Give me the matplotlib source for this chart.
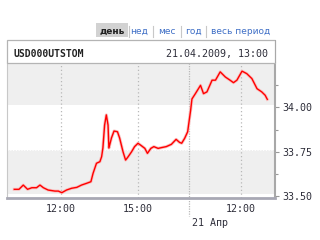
import matplotlib
matplotlib.use('Agg')
import matplotlib.pyplot as plt
from matplotlib.patches import Rectangle
import matplotlib.transforms as mtransforms

# USD000UTSTOM intraday, 20.04.2009 - 21.04.2009
day1_times = ['10:11', '10:22', '10:32', '10:42', '10:52', '11:03', '11:11', '11:19',
              '11:30', '11:46', '11:54', '12:02', '12:13', '12:25', '12:37', '12:48',
              '13:00', '13:10', '13:15', '13:23', '13:31', '13:35', '13:38', '13:42',
              '13:46', '13:50', '13:52', '13:58', '14:04', '14:12', '14:17', '14:25',
              '14:31', '14:37', '14:45', '14:52', '15:00', '15:08', '15:16', '15:22',
              '15:30', '15:37', '15:47', '15:54', '16:06', '16:18', '16:29', '16:37',
              '16:42', '16:49', '16:56']
day1_prices = [33.538, 33.538, 33.562, 33.538, 33.547, 33.547, 33.562, 33.547,
               33.534, 33.528, 33.528, 33.519, 33.534, 33.544, 33.549, 33.562,
               33.572, 33.581, 33.628, 33.685, 33.694, 33.722, 33.771, 33.901,
               33.958, 33.901, 33.771, 33.828, 33.867, 33.863, 33.828, 33.750,
               33.703, 33.722, 33.750, 33.779, 33.798, 33.784, 33.769, 33.741,
               33.769, 33.779, 33.769, 33.773, 33.779, 33.792, 33.820, 33.803,
               33.798, 33.826, 33.863]
day2_times = ['10:03', '10:06', '10:14', '10:26', '10:33', '10:41', '10:53', '11:01',
              '11:12', '11:24', '11:35', '11:43', '11:51', '12:03', '12:14', '12:26',
              '12:38', '12:49', '12:57', '13:02']
day2_prices = [33.986, 34.048, 34.078, 34.125, 34.078, 34.088, 34.154, 34.154,
               34.201, 34.172, 34.154, 34.140, 34.154, 34.205, 34.191, 34.163,
               34.106, 34.088, 34.069, 34.046]

y_ticks = [33.50, 33.75, 34.00]
y_minor = [33.625, 33.875, 34.125]
x_ticks = [('12:00', 0), ('15:00', 0), ('12:00', 1)]
tabs = ['день', 'нед', 'мес', 'год', 'весь период']
ticker = 'USD000UTSTOM'
stamp = '21.04.2009, 13:00'
next_day = '21 Апр'

# trading session, the night gap is cut out of the time axis
OPEN, CLOSE = 10, 17


def x_pos(t, day):
    h, m = t.split(':')
    h = int(h) + int(m) / 60
    return h if day == 0 else CLOSE + h - OPEN


W, H = 320, 240
fig = plt.figure(figsize=(3.2, 2.4), dpi=100)
fig.patch.set_facecolor('white')
mono = 'DejaVu Sans Mono'
txt = '#2e2e3a'
border = '#b4b4b4'

ax = fig.add_axes([7 / W, 42 / H, 268 / W, 135 / H])
ax.set_xlim(x_pos('09:54', 0), x_pos('13:20', 1))
ax.set_ylim(33.489, 34.251)

# background bands (drawn a touch above the tick values, as in the original)
band_shift = 0.012
ax.axhspan(34.00 + band_shift, 34.3, color='#efefef', lw=0, zorder=0)
ax.axhspan(33.50 + band_shift, 33.75 + band_shift, color='#efefef', lw=0, zorder=0)
for v in y_ticks:
    ax.axhline(v + band_shift, color='white', lw=0.8, ls=(0, (1, 1.5)), zorder=0.5)

# vertical grid
for t, d in x_ticks:
    ax.axvline(x_pos(t, d), color='#b8b8b8', lw=0.9, ls=(0, (1, 2)), zorder=1)
xb = x_pos('10:00', 1)
ax.plot([xb, xb], [1, -0.13], transform=ax.get_xaxis_transform(),
        color='#b8b8b8', lw=0.9, ls=(0, (1, 1)), clip_on=False, zorder=1)
ax.text(xb, -0.185, next_day, transform=ax.get_xaxis_transform() +
        mtransforms.ScaledTranslation(3 / 100, 0, fig.dpi_scale_trans),
        ha='left', va='center', fontsize=7.2, family=mono, color=txt)

# price line
xs = [x_pos(t, 0) for t in day1_times] + [x_pos(t, 1) for t in day2_times]
ys = day1_prices + day2_prices
ax.plot(xs, ys, color='#f9c0c0', lw=2.2, solid_joinstyle='round', zorder=2)
ax.plot(xs, ys, color='#ff0000', lw=1.0, solid_joinstyle='round', zorder=3)

# axes look
ax.yaxis.tick_right()
ax.set_yticks(y_ticks)
ax.set_yticklabels(['%.2f' % v for v in y_ticks])
ax.set_yticks(y_minor, minor=True)
ax.tick_params(axis='y', which='major', length=3, width=0.8, color='#999999',
               pad=2, labelsize=7.2, labelcolor=txt)
ax.tick_params(axis='y', which='minor', length=2, width=0.8, color='#999999')
ax.set_xticks([x_pos(t, d) for t, d in x_ticks])
ax.set_xticklabels([t for t, d in x_ticks])
ax.tick_params(axis='x', length=0, pad=4, labelsize=7.2, labelcolor=txt)
for lab in ax.get_xticklabels() + ax.get_yticklabels():
    lab.set_family(mono)
ax.spines['top'].set_visible(False)
ax.spines['left'].set_color('#c8c8c8')
ax.spines['left'].set_linewidth(0.8)
ax.spines['right'].set_color('#a8a8a8')
ax.spines['right'].set_linewidth(1.5)
ax.spines['bottom'].set_color('#a8a8b4')
ax.spines['bottom'].set_linewidth(2)

# header box with ticker and timestamp
fig.add_artist(Rectangle((7 / W, 177 / H), 268 / W, 23 / H, transform=fig.transFigure,
                         fc='white', ec=border, lw=0.9))
fig.add_artist(Rectangle((274.5 / W, 177 / H), 1 / W, 23 / H, transform=fig.transFigure,
                         fc='#a8a8a8', ec='none'))
fig.text(14 / W, 1 - 54 / H, ticker, ha='left', va='center', fontsize=7,
         family=mono, weight='bold', color='#222222')
fig.text(268 / W, 1 - 54 / H, stamp, ha='right', va='center', fontsize=7.2,
         family=mono, color=txt)

# period tabs
tab_x = [112, 139, 167, 193.5, 241]
seps = [129, 153, 181, 206]
fig.add_artist(Rectangle((96 / W, 1 - 37 / H), 32 / W, 14 / H, transform=fig.transFigure,
                         fc='#d2d2d2', ec='none'))
for i, (name, x) in enumerate(zip(tabs, tab_x)):
    fig.text(x / W, 1 - 31.5 / H, name, ha='center', va='center', fontsize=6.5,
             weight='bold' if i == 0 else 'normal',
             color='#222222' if i == 0 else '#3f6fc6')
for x in seps:
    fig.add_artist(plt.Line2D([x / W, x / W], [1 - 37 / H, 1 - 26 / H],
                              transform=fig.transFigure, color='#c8c8c8', lw=0.8))

fig.savefig('out.png', dpi=100)
